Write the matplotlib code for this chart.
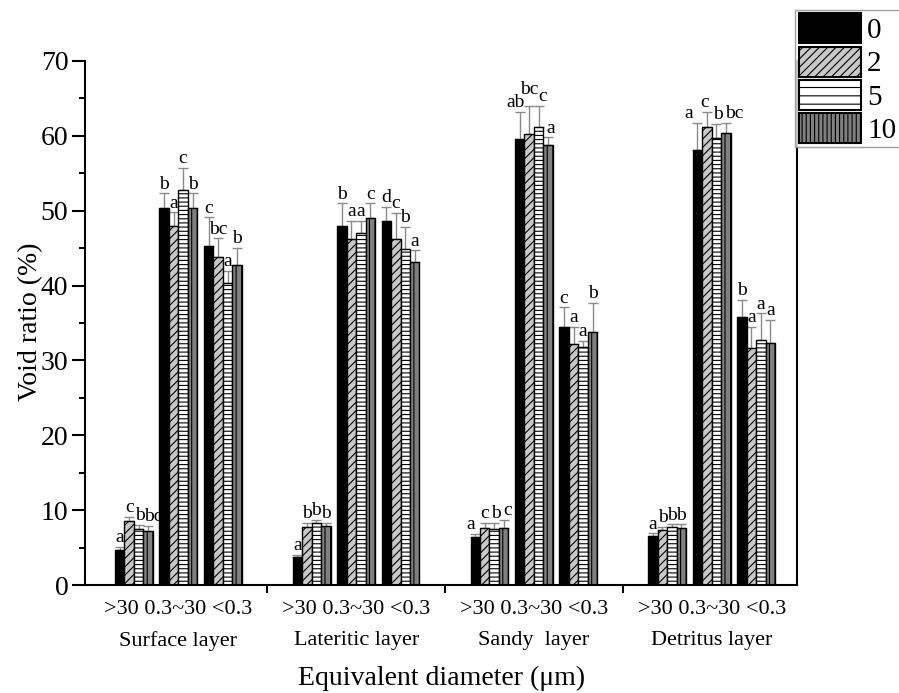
import numpy as np
import matplotlib
matplotlib.use("Agg")
import matplotlib.pyplot as plt
from matplotlib.patches import Patch
from matplotlib.transforms import blended_transform_factory

plt.rcParams["font.family"] = ["Liberation Serif", "DejaVu Serif"]
plt.rcParams["hatch.linewidth"] = 0.8

# ---- data -------------------------------------------------------------
layers = ["Surface layer", "Lateritic layer", "Sandy  layer", "Detritus layer"]
size_classes = [">30", "0.3~30", "<0.3"]
treatments = ["0", "2", "5", "10"]

# void ratio (%) per treatment; order: layer x size class (12 clusters)
v0 = [4.7, 50.3, 45.3, 3.7, 48.0, 48.6, 6.4, 59.6, 34.5, 6.5, 58.1, 35.8]
v2 = [8.5, 48.0, 43.8, 7.8, 46.2, 46.2, 7.6, 60.2, 32.2, 7.3, 61.2, 31.7]
v5 = [7.5, 52.7, 40.3, 8.3, 47.0, 44.9, 7.5, 61.2, 31.8, 7.7, 59.7, 32.7]
v10 = [7.2, 50.3, 42.7, 7.9, 49.0, 43.2, 7.6, 58.8, 33.8, 7.6, 60.4, 32.3]

# standard deviations
e0 = [0.4, 2.0, 3.8, 0.3, 3.0, 1.9, 0.4, 3.6, 2.6, 0.4, 3.6, 2.3]
e2 = [0.6, 1.8, 2.5, 0.5, 2.4, 3.5, 0.7, 3.8, 2.3, 0.5, 2.0, 2.8]
e5 = [0.5, 3.0, 1.7, 0.4, 1.6, 2.9, 0.8, 2.8, 0.8, 0.4, 1.9, 3.6]
e10 = [0.7, 2.0, 2.3, 0.4, 2.0, 1.5, 1.1, 1.0, 3.9, 0.5, 1.3, 3.1]

# significance letters
s0 = ["a", "b", "c", "a", "b", "d", "a", "ab", "c", "a", "a", "b"]
s2 = ["c", "a", "bc", "b", "a", "c", "c", "bc", "a", "b", "c", "a"]
s5 = ["b", "c", "a", "b", "a", "b", "b", "c", "a", "b", "b", "a"]
s10 = ["bc", "b", "b", "b", "c", "a", "c", "a", "b", "b", "bc", "a"]

values = [v0, v2, v5, v10]
errors = [e0, e2, e5, e10]
letters = [s0, s2, s5, s10]

# small offsets (points) for crowded letters: (cluster, treatment) -> (dx, dy)
nudge = {
    (0, 2): (1.0, 0), (0, 3): (4.0, 0),
    (6, 0): (-3.5, 0), (6, 2): (1.0, 0), (6, 3): (3.0, 0),
    (7, 0): (-3, 0), (7, 1): (0, 5), (7, 2): (3, 0), (7, 3): (2, 0),
    (10, 0): (-6, 0), (10, 1): (-1.5, 0), (10, 2): (1, 0), (10, 3): (6, 0),
}

# ---- styling ----------------------------------------------------------
faces = ["black", "#c8c8c8", "white", "#808080"]
hatches_bar = [None, "////", "----", "|||"]
hatches_leg = [None, "////", "--", "||||"]

fig = plt.figure(figsize=(8.99, 6.93), dpi=100)
ax = fig.add_axes([0.0946, 0.1558, 0.7919, 0.7562])

n_size = len(size_classes)
slot = n_size + 1          # one empty slot between layers
cluster_x = np.array([g * slot + k for g in range(len(layers)) for k in range(n_size)], float)
bar_w = 0.213
offsets = (np.arange(len(treatments)) - 1.5) * bar_w

for i in range(len(treatments)):
    xs = cluster_x + offsets[i]
    vals = np.array(values[i])
    errs = np.array(errors[i])
    ax.errorbar(xs, vals, yerr=[np.zeros_like(errs), errs], fmt="none",
                ecolor="#8a8a8a", elinewidth=1.0, capsize=3.6, capthick=1.0, zorder=1)
    ax.bar(xs, vals, width=bar_w, color=faces[i], edgecolor="black",
           linewidth=1.0, hatch=hatches_bar[i], zorder=2)
    for c, (x, v, e, s) in enumerate(zip(xs, vals, errs, letters[i])):
        dx, dy = nudge.get((c, i), (0, 0))
        ax.annotate(s, (x, v + e), xytext=(dx, dy + 0.5), textcoords="offset points",
                    ha="center", va="bottom", fontsize=14, color="black", zorder=3)

ax.set_xlim(-1.1, cluster_x[-1] + 0.92)
ax.set_ylim(0, 70)

ax.spines["top"].set_visible(False)
for side in ["left", "bottom", "right"]:
    ax.spines[side].set_linewidth(1.5)

ax.set_yticks(np.arange(0, 71, 10))
ax.set_yticks(np.arange(5, 70, 10), minor=True)
ax.tick_params(axis="y", which="major", direction="out", length=9.5, width=1.5,
               labelsize=20, pad=2.5, right=False)
ax.tick_params(axis="y", which="minor", direction="out", length=4.5, width=1.5, right=False)

sep = [g * slot - 1 for g in range(1, len(layers))]
ax.set_xticks(sep)
ax.set_xticklabels([])
ax.tick_params(axis="x", which="major", direction="out", length=6, width=1.5)

trans = blended_transform_factory(ax.transData, ax.transAxes)
for g, name in enumerate(layers):
    cx = g * slot + (n_size - 1) / 2
    ax.text(cx, -0.028, " ".join(size_classes), transform=trans, ha="center",
            va="top", fontsize=16)
    ax.text(cx, -0.088, name, transform=trans, ha="center", va="top", fontsize=16)

fig.text(0.4917, 1 - 678 / 693, "Equivalent diameter (μm)", ha="center",
         va="center", fontsize=20)
fig.text(31 / 899, 1 - 322 / 693, "Void ratio (%)", ha="center", va="center",
         rotation=90, fontsize=20)

handles = [Patch(facecolor=faces[i], edgecolor="black", linewidth=1.5,
                 hatch=hatches_leg[i], label=treatments[i]) for i in range(len(treatments))]
leg = fig.legend(handles=handles, loc="upper left",
                 bbox_to_anchor=(795 / 899, 1 - 10 / 693), fontsize=21,
                 handlelength=2.15, handleheight=1.2, labelspacing=0.08,
                 handletextpad=0.2, borderpad=0.12, borderaxespad=0,
                 frameon=True, fancybox=False)
leg.get_frame().set_edgecolor("#888888")
leg.get_frame().set_linewidth(1.0)

fig.savefig("out.png", dpi=100)
